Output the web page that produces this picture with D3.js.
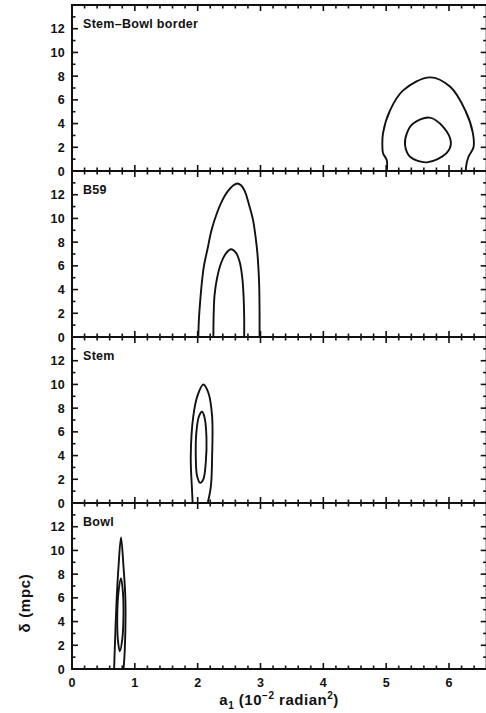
<!DOCTYPE html>
<html>
<head>
<meta charset="utf-8">
<script src="https://cdn.jsdelivr.net/npm/d3@7"></script>
<style>
  html, body { margin: 0; padding: 0; background: #fff; }
  svg { display: block; }
  text { font-family: "Liberation Sans", Arial, sans-serif; fill: #111; font-weight: bold; }
</style>
</head>
<body>
<svg id="chart" width="486" height="713"></svg>
<script>
// Panel titles, top to bottom
const panelNames = ["Stem\u2013Bowl border", "B59", "Stem", "Bowl"];

// Axis ticks
const xMajor = [0, 1, 2, 3, 4, 5, 6];
const yMajor = [0, 2, 4, 6, 8, 10, 12];

// Confidence contours (a1 in 1e-2 rad^2, delta in mpc)
const borderOuter = [[5.01,0],[5.01,0.9],[4.95,1.5],[4.94,2.0],[4.95,3.2],[5.06,5.1],[5.27,6.8],[5.70,7.9],[6.02,7.1],[6.26,5.1],[6.38,3.2],[6.39,2.0],[6.31,1.2],[6.27,0.3],[6.27,0]];
const borderInner = [[5.30,2.2],[5.33,3.2],[5.43,4.0],[5.69,4.5],[5.91,3.7],[6.03,2.4],[5.96,1.5],[5.65,0.73],[5.38,1.2]];
const b59Outer = [[2.01,0],[2.02,1.5],[2.04,3.0],[2.065,4.5],[2.10,6.0],[2.16,7.5],[2.22,9.0],[2.31,10.5],[2.39,11.5],[2.48,12.3],[2.57,12.8],[2.63,12.95],[2.69,12.8],[2.75,12.3],[2.81,11.3],[2.88,9.9],[2.92,8.5],[2.95,7.1],[2.97,5.5],[2.98,4.2],[2.985,2.0],[2.985,0]];
const b59Inner = [[2.25,0],[2.255,2.0],[2.27,3.6],[2.31,5.0],[2.37,6.2],[2.45,7.05],[2.53,7.4],[2.61,7.1],[2.67,6.3],[2.71,5.0],[2.73,3.5],[2.74,1.8],[2.74,0]];
const stemOuter = [[1.92,0],[1.91,1.1],[1.89,3.9],[1.93,7.3],[2.0,9.1],[2.09,10.0],[2.17,9.3],[2.23,7.3],[2.23,3.9],[2.21,1.4],[2.16,0]];
const stemInner = [[2.07,7.7],[2.11,7.2],[2.14,5.5],[2.13,3.5],[2.09,2.0],[2.04,1.7],[1.99,2.3],[1.97,4.0],[1.98,6.0],[2.02,7.3]];
const bowlOuter = [[0.67,0],[0.68,1.6],[0.71,5.8],[0.74,8.6],[0.78,11.1],[0.82,8.6],[0.85,5.8],[0.84,1.6],[0.82,0]];
const bowlInner = [[0.78,7.65],[0.81,6.5],[0.82,5.0],[0.80,2.5],[0.76,1.5],[0.73,2.5],[0.72,4.4],[0.74,6.5]];

const panelContours = [
  [{pts: borderOuter, closed: false}, {pts: borderInner, closed: true}],
  [{pts: b59Outer, closed: false}, {pts: b59Inner, closed: false}],
  [{pts: stemOuter, closed: false}, {pts: stemInner, closed: true}],
  [{pts: bowlOuter, closed: false}, {pts: bowlInner, closed: true}]
];

const svg = d3.select("#chart");
const left = 72, right = 486.7;
const panelTop = 5, panelH = 166;

const x = d3.scaleLinear().domain([0, 6.6]).range([left, right]);
const xMinor = d3.range(0, 6.61, 0.2).filter(v => Math.abs(v - Math.round(v)) > 1e-6);
const yMinor = d3.range(1, 14, 2);

panelNames.forEach((name, i) => {
  const top = panelTop + i * panelH, bottom = top + panelH;
  const y = d3.scaleLinear().domain([0, 14]).range([bottom, top]);
  const g = svg.append("g");

  const clipId = "clip" + i;
  svg.append("clipPath").attr("id", clipId)
    .append("rect").attr("x", left).attr("y", top).attr("width", right - left).attr("height", panelH);

  // contours
  const cg = g.append("g").attr("clip-path", `url(#${clipId})`);
  panelContours[i].forEach(c => {
    const line = d3.line().x(d => x(d[0])).y(d => y(d[1]))
      .curve(c.closed ? d3.curveCatmullRomClosed.alpha(0.5) : d3.curveCatmullRom.alpha(0.5));
    cg.append("path").attr("d", line(c.pts))
      .attr("fill", "none").attr("stroke", "#111").attr("stroke-width", 1.9);
  });

  // frame
  g.append("rect").attr("x", left).attr("y", top).attr("width", right - left).attr("height", panelH)
    .attr("fill", "none").attr("stroke", "#111").attr("stroke-width", 2);

  const tickStyle = sel => sel.attr("stroke", "#111").attr("stroke-width", 1.6);

  // x ticks, bottom and top edges, pointing inward
  [[xMajor, 6], [xMinor, 3.5]].forEach(([vals, len]) => {
    g.selectAll(null).data(vals).enter().append("line")
      .attr("x1", d => x(d)).attr("x2", d => x(d))
      .attr("y1", bottom).attr("y2", bottom - len).call(tickStyle);
    g.selectAll(null).data(vals).enter().append("line")
      .attr("x1", d => x(d)).attr("x2", d => x(d))
      .attr("y1", top).attr("y2", top + len).call(tickStyle);
  });

  // y ticks, left and right edges, pointing inward
  [[yMajor, 6], [yMinor, 3.5]].forEach(([vals, len]) => {
    g.selectAll(null).data(vals).enter().append("line")
      .attr("x1", left).attr("x2", left + len)
      .attr("y1", d => y(d)).attr("y2", d => y(d)).call(tickStyle);
    g.selectAll(null).data(vals).enter().append("line")
      .attr("x1", right).attr("x2", right - len)
      .attr("y1", d => y(d)).attr("y2", d => y(d)).call(tickStyle);
  });

  // y tick labels
  g.selectAll(null).data(yMajor).enter().append("text")
    .attr("x", 65).attr("y", d => y(d)).attr("dy", "0.36em")
    .attr("text-anchor", "end").attr("font-size", 12.5)
    .attr("letter-spacing", 0.3)
    .text(d => d);

  // panel title
  g.append("text").attr("x", 83).attr("y", top + 22.5)
    .attr("font-size", 12.5).attr("letter-spacing", 0.3).text(name);

  // x tick labels on the lowest panel
  if (i === panelNames.length - 1) {
    g.selectAll(null).data(xMajor).enter().append("text")
      .attr("x", d => x(d)).attr("y", bottom + 18)
      .attr("text-anchor", "middle").attr("font-size", 12.5)
      .text(d => d);
  }
});

// axis titles
const xt = svg.append("text").attr("x", 279).attr("y", 705)
  .attr("text-anchor", "middle").attr("font-size", 15).attr("letter-spacing", 0.5);
xt.append("tspan").text("a");
xt.append("tspan").attr("font-size", 10).attr("dy", 3.5).text("1");
xt.append("tspan").attr("dy", -3.5).text(" (10");
xt.append("tspan").attr("font-size", 10).attr("dy", -6.5).text("\u22122");
xt.append("tspan").attr("dy", 6.5).text(" radian");
xt.append("tspan").attr("font-size", 10).attr("dy", -6.5).text("2");
xt.append("tspan").attr("dy", 6.5).text(")");

svg.append("text")
  .attr("transform", "translate(30,603) rotate(-90)")
  .attr("text-anchor", "middle").attr("font-size", 15).attr("letter-spacing", 0.7)
  .text("\u03b4 (mpc)");
</script>
</body>
</html>
